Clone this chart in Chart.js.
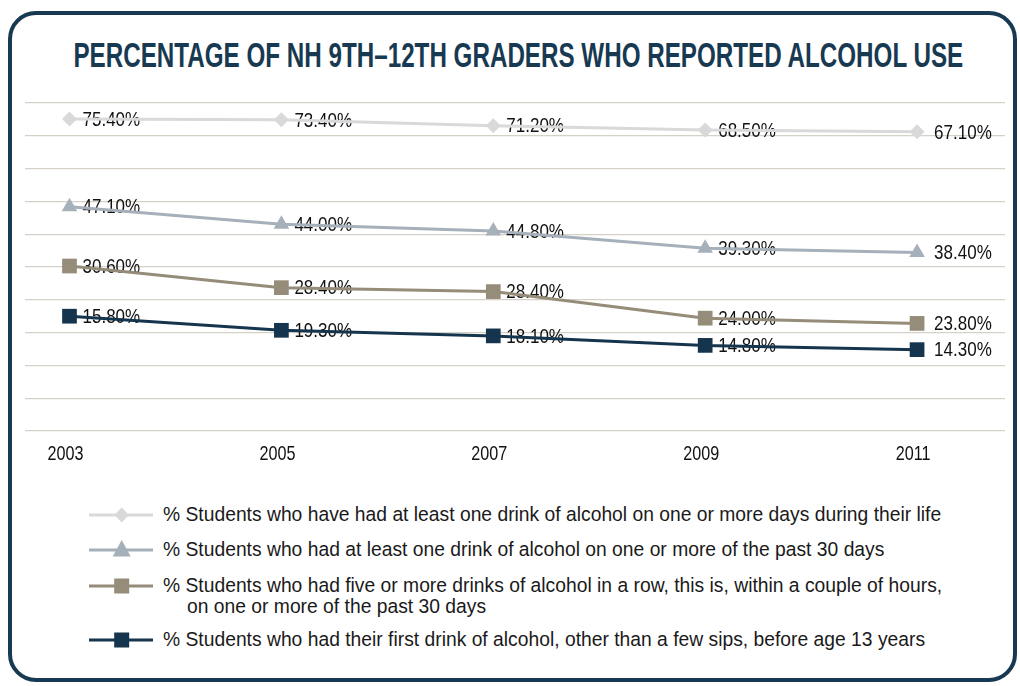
<!DOCTYPE html>
<html>
<head>
<meta charset="utf-8">
<script src="https://cdn.jsdelivr.net/npm/chart.js@4.4.1/dist/chart.umd.min.js"></script>
<style>
  html, body { margin: 0; padding: 0; background: #fff; }
  body {
    width: 1020px; height: 686px; position: relative; overflow: hidden;
    font-family: 'Liberation Sans', Arial, sans-serif;
  }
  .frame {
    position: absolute; left: 8px; top: 11px; width: 1001px; height: 663px;
    border: 4px solid #173a52; border-radius: 28px;
  }
  .title {
    position: absolute; left: 0; top: 37px; white-space: nowrap;
    font-size: 35px; line-height: 35px; font-weight: bold; color: #173a52;
    transform-origin: 50% 50%;
  }
  .chart-box { position: absolute; left: 0; top: 0; width: 1020px; height: 480px; }
  .legend-row { position: absolute; left: 0; width: 1020px; }
  .legend-row svg { position: absolute; left: 89px; }
  .legend-row .txt {
    position: absolute; left: 163px; font-size: 19.3px; line-height: 21px;
    color: #1a1a1a; white-space: nowrap;
  }
</style>
</head>
<body>
<div class="frame"></div>
<div class="title" id="titulo">PERCENTAGE OF NH 9TH–12TH GRADERS WHO REPORTED ALCOHOL USE</div>
<div class="chart-box"><canvas id="grafica"></canvas></div>
<div id="leyenda"></div>

<script>
// Años de la encuesta
const years = [2003, 2005, 2007, 2009, 2011];

// Posición de cada punto, leída sobre la rejilla (0 abajo, 100 arriba)
const lifetimeUse = [95.1, 94.9, 93.1, 91.8, 91.2];
const past30Days = [68.4, 63.0, 61.0, 55.7, 54.4];
const bingeDrinking = [50.3, 43.7, 42.5, 34.4, 32.8];
const before13 = [35.0, 30.7, 29.0, 26.1, 24.8];

// Etiquetas tal como aparecen junto a cada punto
const lifetimeText = ['75.40%', '73.40%', '71.20%', '68.50%', '67.10%'];
const past30Text = ['47.10%', '44.00%', '44.80%', '39.30%', '38.40%'];
const bingeText = ['30.60%', '28.40%', '28.40%', '24.00%', '23.80%'];
const before13Text = ['15.80%', '19.30%', '18.10%', '14.80%', '14.30%'];

const seriesNames = [
  ['% Students who have had at least one drink of alcohol on one or more days during their life'],
  ['% Students who had at least one drink of alcohol on one or more of the past 30 days'],
  ['% Students who had five or more drinks of alcohol in a row, this is, within a couple of hours,',
   'on one or more of the past 30 days'],
  ['% Students who had their first drink of alcohol, other than a few sips, before age 13 years']
];

const colors = ['#d9d9d9', '#a5b0ba', '#958c7a', '#15354f'];
const styles = ['rectRot', 'triangle', 'rect', 'rect'];
const radii = [7.5, 9, 10.4, 10.4];

const fontFamily = "'Liberation Sans', Arial, sans-serif";

const allValues = [lifetimeUse, past30Days, bingeDrinking, before13];
const allText = [lifetimeText, past30Text, bingeText, before13Text];

// Texto estrecho (no hay Arial Narrow): se comprime en horizontal
function narrowText(ctx, text, x, y, squeeze) {
  ctx.save();
  ctx.translate(x, y);
  ctx.scale(squeeze, 1);
  ctx.fillText(text, 0, 0);
  ctx.restore();
}

// Etiquetas de valor, dibujadas antes de las líneas (las líneas pasan por encima)
const valueLabels = {
  id: 'valueLabels',
  beforeDatasetsDraw(chart) {
    const ctx = chart.ctx;
    ctx.save();
    ctx.font = '21px ' + fontFamily;
    ctx.fillStyle = '#111';
    ctx.textBaseline = 'middle';
    ctx.textAlign = 'left';
    chart.data.datasets.forEach((ds, i) => {
      const meta = chart.getDatasetMeta(i);
      meta.data.forEach((pt, j) => {
        const dx = j === meta.data.length - 1 ? 17 : 13;
        narrowText(ctx, allText[i][j], pt.x + dx, pt.y + 1, 0.81);
      });
    });
    ctx.restore();
  }
};

// Años del eje x, en la posición de cada tick de la escala
const yearLabels = {
  id: 'yearLabels',
  afterDraw(chart) {
    const ctx = chart.ctx;
    const xs = chart.scales.x;
    ctx.save();
    ctx.font = '21px ' + fontFamily;
    ctx.fillStyle = '#111';
    ctx.textBaseline = 'middle';
    ctx.textAlign = 'center';
    xs.ticks.forEach(t => {
      narrowText(ctx, String(t.value), xs.getPixelForValue(t.value) - 4, chart.chartArea.bottom + 23.5, 0.77);
    });
    ctx.restore();
  }
};

const datasets = allValues.map((vals, i) => ({
  label: seriesNames[i].join(' '),
  data: years.map((yr, j) => ({ x: yr, y: vals[j] })),
  borderColor: colors[i],
  backgroundColor: colors[i],
  borderWidth: 3,
  tension: 0,
  pointStyle: styles[i],
  pointRadius: radii[i],
  pointHoverRadius: radii[i],
  pointBorderWidth: 0
}));

new Chart(document.getElementById('grafica'), {
  type: 'line',
  data: { datasets: datasets },
  options: {
    responsive: true,
    maintainAspectRatio: false,
    animation: false,
    layout: { padding: { left: 25, right: 15, top: 103, bottom: 49 } },
    plugins: {
      legend: { display: false },
      title: { display: false },
      tooltip: { enabled: false }
    },
    scales: {
      x: {
        type: 'linear',
        min: 2002.58,
        max: 2011.83,
        afterBuildTicks: axis => { axis.ticks = years.map(v => ({ value: v })); },
        grid: { display: false, drawTicks: false },
        border: { display: false },
        ticks: { display: false }
      },
      y: {
        min: 0,
        max: 100,
        ticks: { display: false, stepSize: 10 },
        border: { display: false },
        grid: { color: '#d5d1c8', lineWidth: 1.3, drawTicks: false }
      }
    }
  },
  plugins: [valueLabels, yearLabels]
});

// Título comprimido al ancho del original y centrado en x = 518
const titulo = document.getElementById('titulo');
const anchoTitulo = titulo.offsetWidth;
titulo.style.left = (518 - anchoTitulo / 2) + 'px';
titulo.style.transform = 'scaleX(' + (890 / anchoTitulo) + ')';

// Leyenda en HTML
const legendLines = [515, 549.5, 586, 640];
const leyenda = document.getElementById('leyenda');
seriesNames.forEach((lines, i) => {
  const row = document.createElement('div');
  row.className = 'legend-row';
  row.style.top = (legendLines[i] - 12) + 'px';
  const c = colors[i];
  let marker = '';
  if (styles[i] === 'rectRot') {
    marker = `<polygon points="32.7,4.5 40,12 32.7,19.5 25.4,12" fill="${c}"/>`;
  } else if (styles[i] === 'triangle') {
    marker = `<polygon points="32.7,2 41.7,18.5 23.7,18.5" fill="${c}"/>`;
  } else {
    marker = `<rect x="25.2" y="4.5" width="15" height="15" fill="${c}"/>`;
  }
  row.innerHTML =
    `<svg width="64" height="24"><line x1="0" y1="12" x2="64" y2="12" stroke="${c}" stroke-width="3"/>${marker}</svg>` +
    `<div class="txt" style="top:1px">${lines[0]}` +
    (lines[1] ? `<br><span style="padding-left:24px">${lines[1]}</span>` : '') +
    `</div>`;
  leyenda.appendChild(row);
});
</script>
</body>
</html>
